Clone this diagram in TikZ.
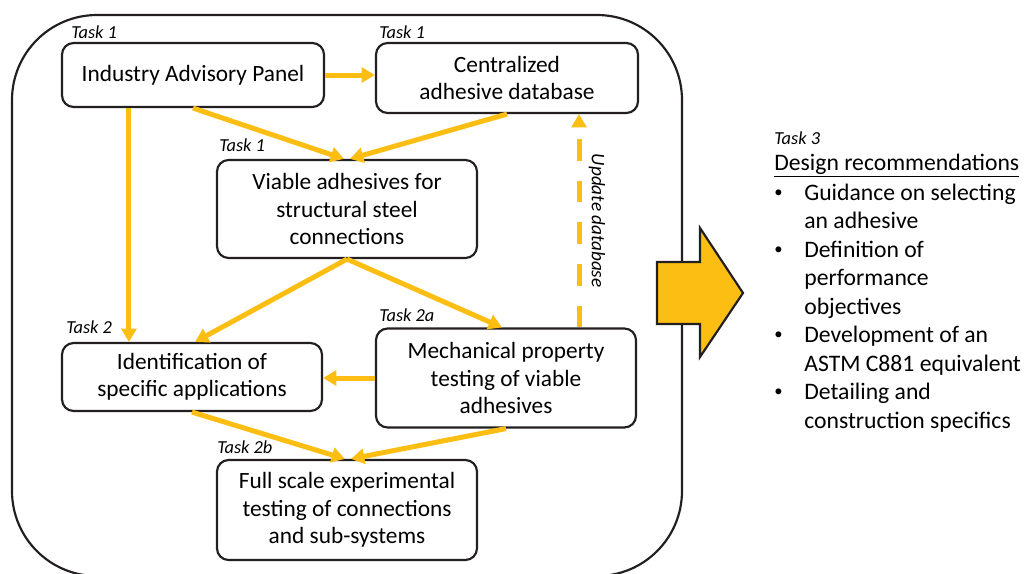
\documentclass[tikz,border=0pt]{standalone}
\usepackage{fontspec}
\setmainfont{Carlito}
\usetikzlibrary{arrows.meta,calc,positioning}
\definecolor{amber}{RGB}{252,190,18}
\definecolor{ink}{RGB}{35,31,32}
\newcommand{\recbul}{\raisebox{0.25ex}{\fontsize{10}{10}\selectfont\textbullet}}
\tikzset{
  taskbox/.style={rectangle, draw=ink, line width=1.3pt, rounded corners=7pt,
    align=center, inner sep=0pt, minimum width=156pt,
    font=\fontsize{14}{16.5}\selectfont},
  tasklbl/.style={anchor=south west, inner sep=0pt,
    font=\fontsize{11}{13}\selectfont\itshape},
  flow/.style={draw=amber, line width=3pt,
    -{Triangle[length=8pt,width=9pt]}},
  updflow/.style={flow, dash pattern=on 13pt off 12pt},
  frame/.style={draw=ink, line width=1.3pt, rounded corners=51pt}
}
\begin{document}
\begin{tikzpicture}[x=0.6pt,y=-0.6pt]
\useasboundingbox (0,0) rectangle (1025,573);

\draw[frame] (12,15) rectangle (682,576);

\node[taskbox, minimum width=157.2pt, minimum height=38.4pt] (iap) at (193,75) {Industry Advisory Panel};
\node[taskbox, minimum width=157.2pt, minimum height=42pt] (cad) at (507,78) {Centralized\\adhesive database};
\node[taskbox, minimum height=58.8pt] (viable) at (347,209) {Viable adhesives for\\structural steel\\connections};
\node[taskbox, minimum height=40.8pt] (ident) at (192,377) {Identification of\\specific applications};
\node[taskbox, minimum height=59.4pt] (mech) at (506,378) {Mechanical property\\testing of viable\\adhesives};
\node[taskbox, minimum height=60pt] (full) at (347,510) {Full scale experimental\\testing of connections\\and sub-systems};

\node[tasklbl] (iapt) at ($(iap.north west)+(10,-3)$) {Task 1};
\node[tasklbl] (cadt) at ($(cad.north west)+(4,-3)$) {Task 1};
\node[tasklbl] (viablet) at ($(viable.north west)+(3,-7)$) {Task 1};
\node[tasklbl] (identt) at ($(ident.north west)+(5,-8)$) {Task 2};
\node[tasklbl] (mecht) at ($(mech.north west)+(4,-5)$) {Task 2a};
\node[tasklbl] (fullt) at ($(full.north west)+(1,-5)$) {Task 2b};

\draw[flow] (iap.east) -- (cad.west |- iap.east);
\draw[flow] (iap.south) -- ($(viable.north)+(-3,0)$);
\draw[flow] (cad.south) -- ($(viable.north)+(3,0)$);
\draw[flow] ($(iap.south west)+(68,0)$) coordinate (iapv) -- (iapv |- ident.north);
\draw[flow] (viable.south) -- ($(ident.north)+(3,0)$);
\draw[flow] (viable.south) -- ($(mech.north)+(-4,0)$);
\draw[flow] (mech.west) -- (mech.west -| ident.east);
\draw[flow] (ident.south) -- ($(full.north)+(-2,0)$);
\draw[flow] (mech.south) -- ($(full.north)+(4,0)$);
\draw[updflow] ($(mech.north)+(73,0)$) coordinate (updlow) -- (updlow |- cad.south) coordinate (updtop);
\node[rotate=-90, inner sep=0pt, font=\fontsize{11.5}{13}\selectfont\itshape] (upd)
  at ($(updlow)!0.5!(updtop)+(18,0)$) {Update database};

\filldraw[fill=amber, draw=ink, line width=1.3pt, line join=miter]
  (657,262) -- (700,262) -- (700,228) -- (743,293) -- (700,357) -- (700,324) -- (657,324) -- cycle;

\node[anchor=base west, inner sep=0pt, font=\fontsize{11}{13}\selectfont\itshape] (t3) at (774,144) {Task 3};
\node[anchor=base west, inner sep=0pt, font=\fontsize{14.2}{17}\selectfont] (design) at (774,170) {\underline{Design recommendations}};
\node[anchor=base west, inner sep=0pt, font=\fontsize{14.2}{17.1}\selectfont] (recs) at (774,200)
  {\begin{tabular}[t]{@{}p{18pt}@{}l@{}}
   \recbul & Guidance on selecting\\
           & an adhesive\\
   \recbul & Definition of\\
           & performance\\
           & objectives\\
   \recbul & Development of an\\
           & ASTM C881 equivalent\\
   \recbul & Detailing and\\
           & construction specifics
   \end{tabular}};
\end{tikzpicture}
\end{document}
